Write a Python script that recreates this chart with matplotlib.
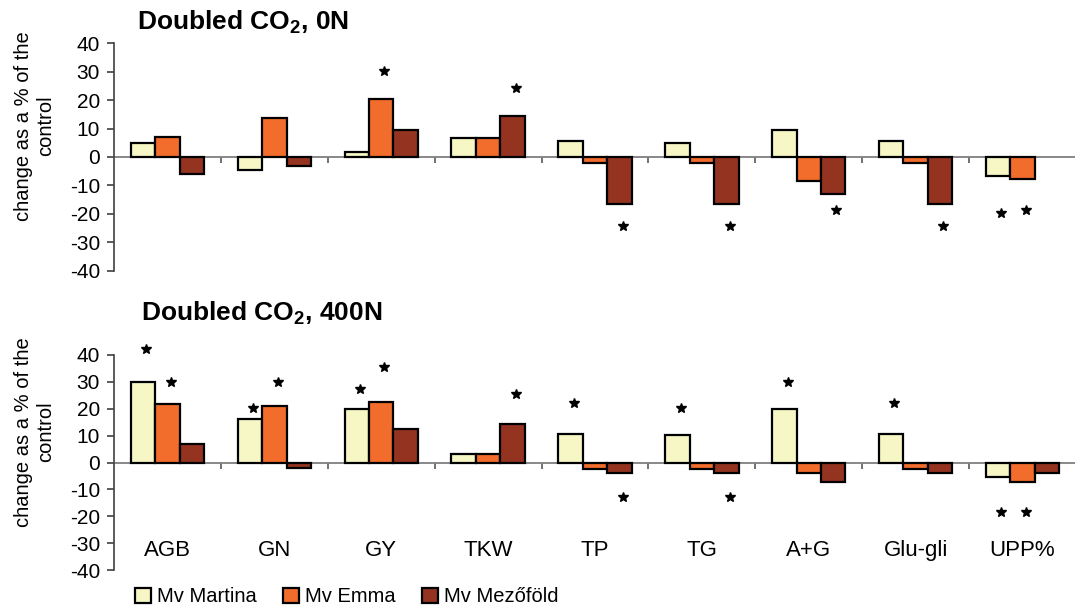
import numpy as np
import matplotlib
matplotlib.use("Agg")
import matplotlib.pyplot as plt
from matplotlib.patches import Patch

plt.rcParams['font.family'] = ['Liberation Sans', 'DejaVu Sans']
plt.rcParams['mathtext.fontset'] = 'custom'
plt.rcParams['mathtext.rm'] = 'Liberation Sans'
plt.rcParams['mathtext.bf'] = 'Liberation Sans:bold'

categories = ["AGB", "GN", "GY", "TKW", "TP", "TG", "A+G", "Glu-gli", "UPP%"]
series = ["Mv Martina", "Mv Emma", "Mv Mezőföld"]
colors = ["#F7F7C6", "#F26C2B", "#943320"]

# Doubled CO2, 0N  (None = no bar shown)
martina_0N = [5.0, -4.6, 1.6, 6.8, 5.6, 4.9, 9.6, 5.7, -6.7]
emma_0N = [7.0, 13.6, 20.3, 6.8, -2.2, -2.2, -8.6, -2.2, -7.9]
mezofold_0N = [-6.0, -3.1, 9.6, 14.3, -16.7, -16.7, -13.1, -16.7, None]
# significance stars: (category index, series index, y)
stars_0N = [(2, 1, 30.1), (3, 2, 24.3), (4, 2, -24.3), (5, 2, -24.3),
            (6, 2, -18.8), (7, 2, -24.3), (8, 0, -19.7), (8, 1, -18.8)]

# Doubled CO2, 400N
martina_400N = [30.0, 16.1, 19.9, 3.3, 10.7, 10.4, 19.9, 10.7, -5.4]
emma_400N = [21.6, 21.0, 22.4, 3.0, -2.4, -2.4, -3.9, -2.4, -7.3]
mezofold_400N = [7.0, -2.0, 12.3, 14.5, -4.0, -4.0, -7.3, -4.0, -4.0]
stars_400N = [(0, 0, 42.4), (0, 1, 30.1), (1, 0, 20.2), (1, 1, 30.1),
              (2, 0, 27.5), (2, 1, 35.5), (3, 2, 25.5), (4, 0, 22.3),
              (4, 2, -12.9), (5, 0, 20.2), (5, 2, -12.9), (6, 0, 30.1),
              (7, 0, 22.3), (8, 0, -18.3), (8, 1, -18.3)]

yticks = [-40, -30, -20, -10, 0, 10, 20, 30, 40]

W, H = 1075, 608
fig = plt.figure(figsize=(W / 100, H / 100), dpi=100)

bar_w = 0.229
x = np.arange(len(categories))


def panel(rect, data, stars, show_cats):
    ax = fig.add_axes(rect)
    for i, vals in enumerate(data):
        v = np.array([np.nan if a is None else a for a in vals], dtype=float)
        ax.bar(x + (i - 1) * bar_w, v, width=bar_w, color=colors[i],
               edgecolor='black', linewidth=1.6, zorder=3)
    for (c, s, y) in stars:
        ax.plot(c + (s - 1) * bar_w + 0.03, y, marker='*', color='black',
                markersize=7, linestyle='none', zorder=4, clip_on=False)
    ax.set_xlim(-0.5, len(categories) - 0.5)
    ax.set_ylim(-40, 40)
    ax.set_yticks(yticks)
    ax.set_yticklabels([str(t) for t in yticks], fontsize=15)
    ax.spines['top'].set_visible(False)
    ax.spines['right'].set_visible(False)
    ax.spines['left'].set_color('#404040')
    ax.spines['left'].set_linewidth(1.2)
    ax.spines['bottom'].set_position(('data', 0))
    ax.spines['bottom'].set_color('#7f7f7f')
    ax.spines['bottom'].set_linewidth(1.3)
    ax.spines['bottom'].set_zorder(2)
    ax.set_xticks(np.arange(0.5, len(categories) - 0.5, 1))
    ax.set_xticklabels([])
    ax.tick_params(axis='x', direction='out', length=4, width=1.2, color='#5a5a5a')
    ax.tick_params(axis='y', direction='out', length=5, width=1.2, color='#404040', pad=5)
    ax.patch.set_alpha(0)
    if show_cats:
        for i, c in enumerate(categories):
            ax.text(i, -32.6, c, ha='center', va='center', fontsize=16)
    return ax


x0 = 114 / W
w = (1076 - 114) / W
ax1 = panel([x0, 1 - 270.7 / H, w, (270.7 - 43.3) / H],
            [martina_0N, emma_0N, mezofold_0N], stars_0N, False)
ax2 = panel([x0, 1 - 570 / H, w, (570 - 355) / H],
            [martina_400N, emma_400N, mezofold_400N], stars_400N, True)

fig.text(243 / W, 1 - 22 / H, r'Doubled CO$_\mathbf{2}$, 0N', ha='center', va='center',
         fontsize=19, fontweight='bold')
fig.text(262 / W, 1 - 313 / H, r'Doubled CO$_\mathbf{2}$, 400N', ha='center', va='center',
         fontsize=19, fontweight='bold')

ylab = "change as a % of the\ncontrol"
fig.text(35 / W, 1 - 126 / H, ylab, rotation=90, ha='center', va='center',
         fontsize=14.5, multialignment='center')
fig.text(35 / W, 1 - 432 / H, ylab, rotation=90, ha='center', va='center',
         fontsize=14.5, multialignment='center')

handles = [Patch(facecolor=colors[i], edgecolor='black', linewidth=1.6, label=series[i])
           for i in range(3)]
fig.legend(handles=handles, loc='center left', bbox_to_anchor=(135 / W, 1 - 597 / H),
           ncol=3, frameon=False, fontsize=14.5, handlelength=0.8, handleheight=0.8,
           handletextpad=0.3, columnspacing=1.3, borderpad=0, borderaxespad=0)

fig.savefig("out.png", dpi=100)
